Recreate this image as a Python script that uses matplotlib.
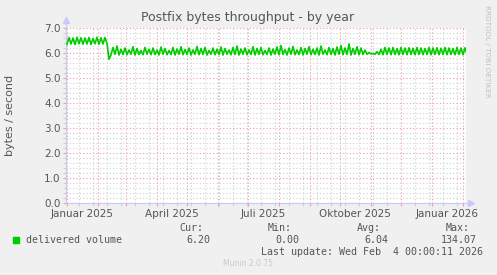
import matplotlib
matplotlib.use("Agg")
import matplotlib.pyplot as plt
import matplotlib.dates as mdates
import numpy as np
import pandas as pd

# delivered volume, one reading every 2 days from 2025-01-01
volume = [
    6.35, 6.62, 6.36, 6.60, 6.34, 6.63, 6.37, 6.61, 6.35, 6.60,
    6.36, 6.62, 6.34, 6.58, 6.37, 6.63, 6.35, 6.61, 6.36, 6.62,
    6.38, 5.75,
    5.93, 6.22, 5.95, 6.28, 5.92, 6.15, 5.94, 6.20, 5.93, 6.12,
    5.95, 6.25, 5.92, 6.18, 5.94, 6.10, 5.93, 6.22, 5.95, 6.15,
    5.93, 6.20, 5.94, 6.12, 5.92, 6.24, 5.95, 6.18, 5.93, 6.10,
    5.94, 6.22, 5.92, 6.16, 5.95, 6.25, 5.93, 6.14, 5.94, 6.20,
    5.92, 6.12, 5.95, 6.26, 5.93, 6.18, 5.94, 6.22, 5.92, 6.10,
    5.95, 6.20, 5.93, 6.15, 5.94, 6.24, 5.92, 6.18, 5.95, 6.12,
    5.93, 6.22, 5.94, 6.28, 5.92, 6.16, 5.95, 6.20, 5.93, 6.12,
    5.94, 6.25, 5.92, 6.18, 5.95, 6.22, 5.93, 6.10, 5.94, 6.20,
    5.92, 6.16, 5.95, 6.24, 5.93, 6.30, 5.94, 6.14, 5.92, 6.20,
    5.95, 6.26, 5.93, 6.12, 5.94, 6.22, 5.92, 6.18, 5.95, 6.25,
    5.93, 6.15, 5.94, 6.20, 5.92, 6.28, 5.95, 6.12, 5.93, 6.22,
    5.94, 6.18, 5.92, 6.24, 5.95, 6.30, 5.93, 6.20, 5.94, 6.36,
    5.92, 6.18, 5.95, 6.25, 5.93, 6.20, 5.94, 6.12, 5.95, 6.02,
    5.96, 5.98, 5.95, 6.05, 5.94, 6.15, 5.93, 6.22, 5.94, 6.20,
    5.93, 6.22, 5.94, 6.18, 5.93, 6.22, 5.94, 6.20, 5.93, 6.21,
    5.94, 6.19, 5.93, 6.22, 5.94, 6.20, 5.93, 6.18, 5.94, 6.22,
    5.93, 6.20, 5.94, 6.21, 5.93, 6.19, 5.94, 6.22, 5.93, 6.20,
    5.94, 6.18, 5.93, 6.22, 5.94, 6.20, 5.93, 6.21, 5.94, 6.20,
]
dates = pd.date_range("2025-01-01", periods=len(volume), freq="2D")

x_start = pd.Timestamp("2024-12-31")
x_end = pd.Timestamp("2026-02-04")
month_starts = pd.date_range("2025-01-01", "2026-02-01", freq="MS")
label_dates = pd.to_datetime(["2025-01-16", "2025-04-16", "2025-07-16", "2025-10-16", "2026-01-16"])
label_texts = ["Januar 2025", "April 2025", "Juli 2025", "Oktober 2025", "Januar 2026"]
minor_dates = pd.date_range("2025-01-13", "2026-02-04", freq="14D")

stat_names = ["Cur:", "Min:", "Avg:", "Max:"]
stat_values = ["6.20", "0.00", "6.04", "134.07"]

bg = "#f0f0f0"
txt = "#555555"
axis_col = "#c8c8ff"
green = "#00cc00"

fig = plt.figure(figsize=(4.97, 2.75), dpi=100, facecolor=bg)
ax = fig.add_axes([66 / 497, 72 / 275, 400 / 497, 175 / 275])
ax.set_facecolor("white")

ax.plot(dates, volume, color=green, linewidth=1.2, zorder=3)

ax.set_xlim(x_start, x_end)
ax.set_ylim(0, 7)

ax.set_yticks(np.arange(0, 7.01, 1.0))
ax.set_yticks(np.arange(0, 7.01, 0.2), minor=True)
ax.set_yticklabels(["%.1f" % v for v in np.arange(0, 7.01, 1.0)])
ax.set_xticks(mdates.date2num(month_starts))
ax.set_xticks(mdates.date2num(minor_dates), minor=True)
ax.set_xticklabels([])

ax.grid(True, which="minor", color="#d0d0d0", linestyle=(0, (1, 2)), linewidth=0.8, zorder=1)
ax.grid(True, which="major", color="#e8a0a0", linestyle=(0, (1, 2)), linewidth=0.8, zorder=2)

ax.tick_params(axis="both", which="major", length=2, width=0.8, colors="#e8a0a0",
               labelcolor=txt, labelsize=7.5, pad=2)
ax.tick_params(axis="both", which="minor", length=2, width=0.8, colors="#d0d0d0")

for s in ["top", "right"]:
    ax.spines[s].set_visible(False)
for s in ["left", "bottom"]:
    ax.spines[s].set_color(axis_col)
    ax.spines[s].set_linewidth(0.8)

# axis arrows
ax.plot([0, 0], [1.0, 1.04], transform=ax.transAxes, color=axis_col, lw=0.8, clip_on=False)
ax.plot([0], [1.045], marker="^", markersize=4, color=axis_col, transform=ax.transAxes, clip_on=False)
ax.plot([1.0, 1.01], [0, 0], transform=ax.transAxes, color=axis_col, lw=0.8, clip_on=False)
ax.plot([1.012], [0], marker=">", markersize=4, color=axis_col, transform=ax.transAxes, clip_on=False)

xt = ax.get_xaxis_transform()
for d, t in zip(label_dates, label_texts):
    ax.text(mdates.date2num(d), -0.035, t, transform=xt, ha="center", va="top",
            fontsize=7.5, color=txt)

fig.text(248 / 497, 1 - 18 / 275, "Postfix bytes throughput - by year", ha="center",
         va="center", fontsize=9, color=txt)
fig.text(10 / 497, 1 - 115 / 275, "bytes / second", rotation=90, ha="center",
         va="center", fontsize=8, color=txt)
fig.text(487 / 497, 1 - 5 / 275, "RRDTOOL / TOBI OETIKER", rotation=-90, ha="center",
         va="top", fontsize=5.2, color="#c0c0c0")

mono = "DejaVu Sans Mono"
fig.patches.append(plt.Rectangle((13 / 497, 1 - 243 / 275), 6 / 497, 6 / 275,
                                 transform=fig.transFigure, color=green, figure=fig))
fig.text(26 / 497, 1 - 240 / 275, "delivered volume", family=mono, fontsize=7.2,
         color=txt, va="center", ha="left")
name_right = [203, 292, 381, 470]
value_right = [210, 299, 388, 477]
for n, v, xn, xv in zip(stat_names, stat_values, name_right, value_right):
    fig.text(xn / 497, 1 - 228 / 275, n, family=mono, fontsize=7.2, color=txt,
             va="center", ha="right")
    fig.text(xv / 497, 1 - 240 / 275, v, family=mono, fontsize=7.2, color=txt,
             va="center", ha="right")
fig.text(483 / 497, 1 - 252 / 275, "Last update: Wed Feb  4 00:00:11 2026", family=mono,
         fontsize=7.2, color=txt, va="center", ha="right")
fig.text(248 / 497, 1 - 263 / 275, "Munin 2.0.75", fontsize=5.5, color="#c8c8c8",
         ha="center", va="center")

fig.savefig("out.png", dpi=100, facecolor=bg)
